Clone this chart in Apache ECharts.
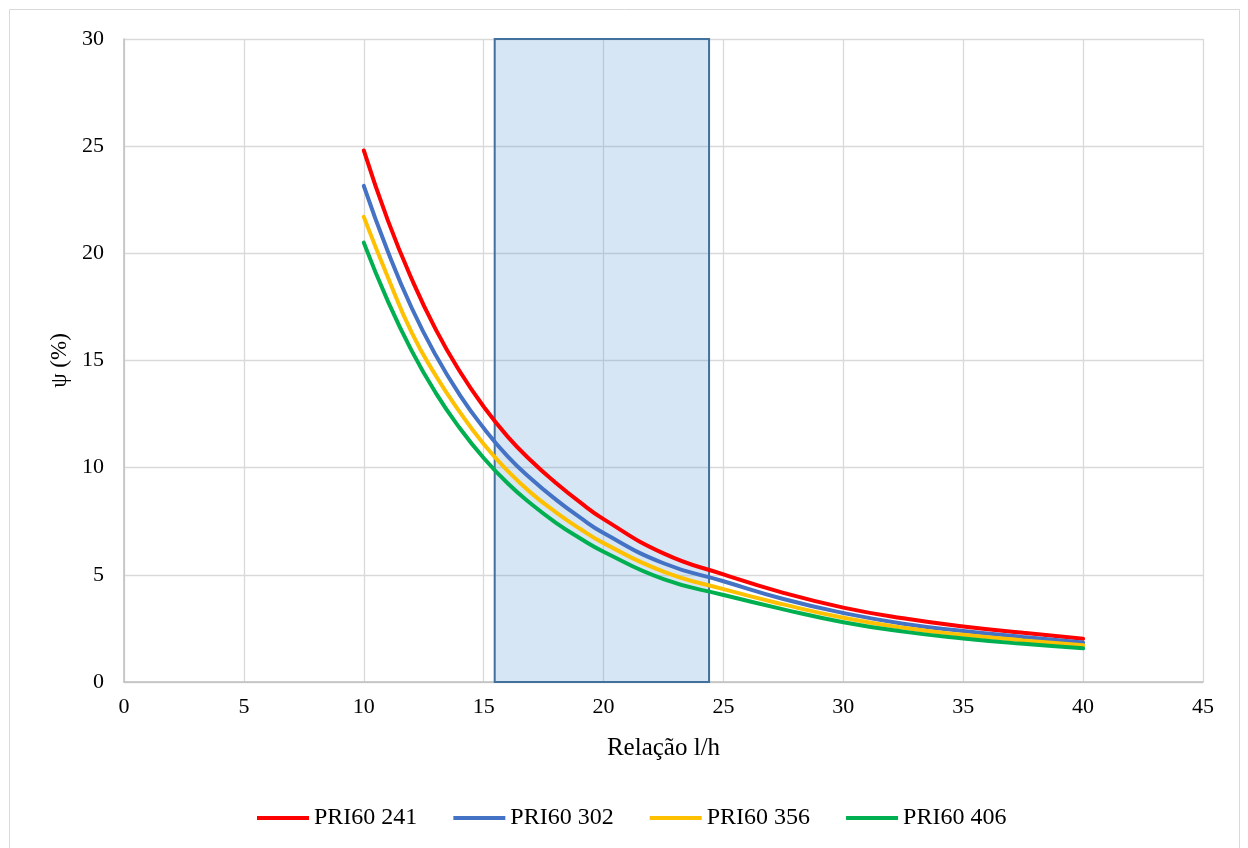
<!DOCTYPE html>
<html>
<head>
<meta charset="utf-8">
<script src="https://cdn.jsdelivr.net/npm/echarts@6/dist/echarts.min.js"></script>
<style>
  html, body { margin: 0; padding: 0; background: #ffffff; }
  #chart { width: 1248px; height: 848px; }
</style>
</head>
<body>
<div id="chart"></div>
<script>
// ---- data ----
const relacao = [10, 11, 12, 13, 14, 15, 16, 17, 18, 19, 20, 22.5, 25, 27.5, 30, 32.5, 35, 37.5, 40];
const pri241 = [24.8, 21.55, 18.8, 16.45, 14.5, 12.85, 11.45, 10.3, 9.3, 8.4, 7.6, 6.0, 5.02, 4.16, 3.47, 2.97, 2.59, 2.3, 2.02];
const pri302 = [23.15, 20.1, 17.45, 15.25, 13.4, 11.85, 10.53, 9.46, 8.52, 7.69, 6.95, 5.54, 4.7, 3.87, 3.22, 2.72, 2.38, 2.1, 1.84];
const pri356 = [21.7, 18.9, 16.3, 14.3, 12.6, 11.1, 9.85, 8.8, 7.93, 7.16, 6.48, 5.15, 4.33, 3.62, 3.0, 2.53, 2.2, 1.94, 1.71];
const pri406 = [20.5, 17.78, 15.45, 13.49, 11.85, 10.45, 9.27, 8.29, 7.44, 6.72, 6.08, 4.8, 4.06, 3.39, 2.79, 2.35, 2.03, 1.78, 1.57];
const seriesNames = ['PRI60 241', 'PRI60 302', 'PRI60 356', 'PRI60 406'];
const seriesColors = ['#ff0000', '#4472c4', '#ffc000', '#00b050'];
const shadedRange = [15.46, 24.4];
const xTicks = { min: 0, max: 45, interval: 5 };
const yTicks = { min: 0, max: 30, interval: 5 };

const FONT = '"Liberation Serif", "Times New Roman", serif';
const chart = echarts.init(document.getElementById('chart'), null, { renderer: 'canvas' });

function pairs(ys) { return relacao.map((x, i) => [x, ys[i]]); }
const allY = [pri241, pri302, pri356, pri406];

const series = seriesNames.map((name, i) => ({
  name: name,
  type: 'line',
  data: pairs(allY[i]),
  smooth: 0.5,
  showSymbol: false,
  symbol: 'none',
  lineStyle: { color: seriesColors[i], width: 4, cap: 'round' },
  itemStyle: { color: seriesColors[i] },
  z: 3
}));

series.push({
  name: 'faixa',
  type: 'line',
  data: [],
  z: 10,
  markArea: {
    silent: true,
    itemStyle: {
      color: 'rgba(91,155,213,0.25)',
      borderColor: '#41719c',
      borderWidth: 2
    },
    data: [[{ xAxis: shadedRange[0], yAxis: yTicks.min }, { xAxis: shadedRange[1], yAxis: yTicks.max }]]
  }
});

chart.setOption({
  backgroundColor: '#ffffff',
  animation: false,
  graphic: [{
    type: 'rect',
    shape: { x: 9.5, y: 9.5, width: 1230, height: 860 },
    style: { fill: 'none', stroke: '#d9d9d9', lineWidth: 1 },
    silent: true, z: -1
  }],
  grid: { left: 124, right: 45, top: 39, bottom: 166, containLabel: false },
  legend: {
    data: seriesNames,
    left: 252,
    top: 801,
    icon: 'rect',
    itemWidth: 52,
    itemHeight: 4,
    itemGap: 36,
    textStyle: { fontFamily: FONT, fontSize: 24, color: '#000000' }
  },
  xAxis: {
    type: 'value',
    min: xTicks.min, max: xTicks.max, interval: xTicks.interval,
    name: 'Relação l/h',
    nameLocation: 'middle',
    nameGap: 54,
    nameTextStyle: { fontFamily: FONT, fontSize: 25, color: '#000000' },
    axisLine: { show: true, onZero: false, lineStyle: { color: '#bfbfbf', width: 1.5 } },
    axisTick: { show: false },
    axisLabel: { fontFamily: FONT, fontSize: 22, color: '#000000', margin: 14 },
    splitLine: { show: true, lineStyle: { color: '#d9d9d9', width: 1.3 } }
  },
  yAxis: {
    type: 'value',
    min: yTicks.min, max: yTicks.max, interval: yTicks.interval,
    name: 'ψ (%)',
    nameLocation: 'middle',
    nameGap: 52,
    nameRotate: 90,
    nameTextStyle: { fontFamily: FONT, fontSize: 23, color: '#000000' },
    axisLine: { show: true, lineStyle: { color: '#bfbfbf', width: 1.5 } },
    axisTick: { show: false },
    axisLabel: { fontFamily: FONT, fontSize: 22, color: '#000000', margin: 20 },
    splitLine: { show: true, lineStyle: { color: '#d9d9d9', width: 1.3 } }
  },
  series: series
});
</script>
</body>
</html>
